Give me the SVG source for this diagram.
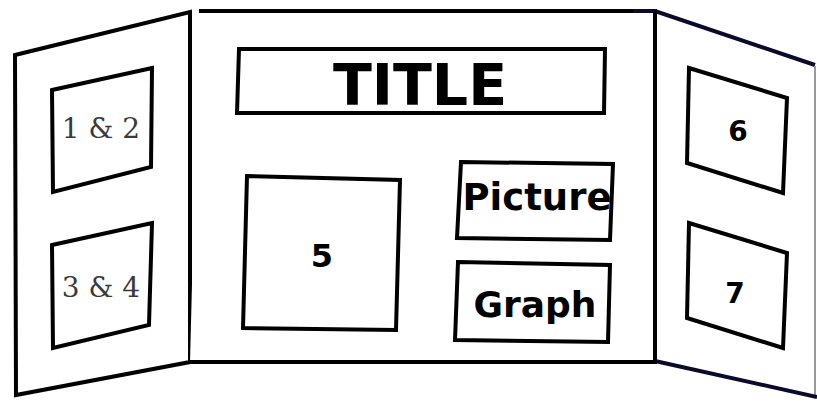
<svg xmlns="http://www.w3.org/2000/svg" width="817" height="402" viewBox="0 0 817 402">
<style>
.board{fill:#fff;stroke:#000;stroke-width:4;stroke-linejoin:miter}
.box{fill:#fff;stroke:#000;stroke-width:4;stroke-linejoin:miter}
.serif{font-family:"DejaVu Serif","Liberation Serif",serif;font-size:28px;fill:#3a3a3a;text-anchor:middle}
.bold{font-family:"DejaVu Sans","Verdana",sans-serif;font-weight:bold;fill:#000}
</style>
<rect width="817" height="402" fill="#fff"/>
<g id="left-panel">
<polygon class="board" points="15,55 190,12 190,362 16,395"/>
</g>
<g id="center-panel">
<polyline class="board" points="199,11 655,11 655,362 190,362" fill="none"/>
</g>
<g id="right-panel">
<polyline points="633,11 655,11 815,65" fill="none" stroke="#0a0a2a" stroke-width="4"/>
<line x1="815" y1="66" x2="815" y2="398" stroke="#999" stroke-width="2"/>
<line x1="655" y1="361" x2="817" y2="397" stroke="#0a0a2a" stroke-width="4"/>
<line x1="655" y1="11" x2="655" y2="362" stroke="#000" stroke-width="4"/>
</g>
<g id="box-1-2">
<polygon class="box" points="52,90 152,68 151,167 53,192"/>
<text class="serif" x="101" y="138">1 &amp; 2</text>
</g>
<g id="box-3-4">
<polygon class="box" points="52,245 152,223 149,325 53,348"/>
<text class="serif" x="101" y="297">3 &amp; 4</text>
</g>
<g id="title">
<polygon class="box" points="239,49 605,49 604,113 237,113"/>
<text class="bold" x="420" y="105" font-size="57" text-anchor="middle">TITLE</text>
</g>
<g id="box-5">
<polygon class="box" points="247,176 400,180 396,330 243,328"/>
<text class="bold" x="322" y="267" font-size="32" text-anchor="middle">5</text>
</g>
<g id="picture">
<polygon class="box" points="461,162 613,164 610,240 457,238"/>
<text class="bold" x="537" y="210" font-size="37" text-anchor="middle">Picture</text>
</g>
<g id="graph">
<polygon class="box" points="458,262 610,265 608,342 455,340"/>
<text class="bold" x="535" y="317" font-size="36" text-anchor="middle">Graph</text>
</g>
<g id="box-6">
<polygon class="box" points="689,68 787,98 783,193 687,163"/>
<text class="bold" x="738" y="141" font-size="28" text-anchor="middle">6</text>
</g>
<g id="box-7">
<polygon class="box" points="689,223 787,253 783,348 687,318"/>
<text class="bold" x="735" y="303" font-size="28" text-anchor="middle">7</text>
</g>
<g id="connectors"></g>
</svg>
